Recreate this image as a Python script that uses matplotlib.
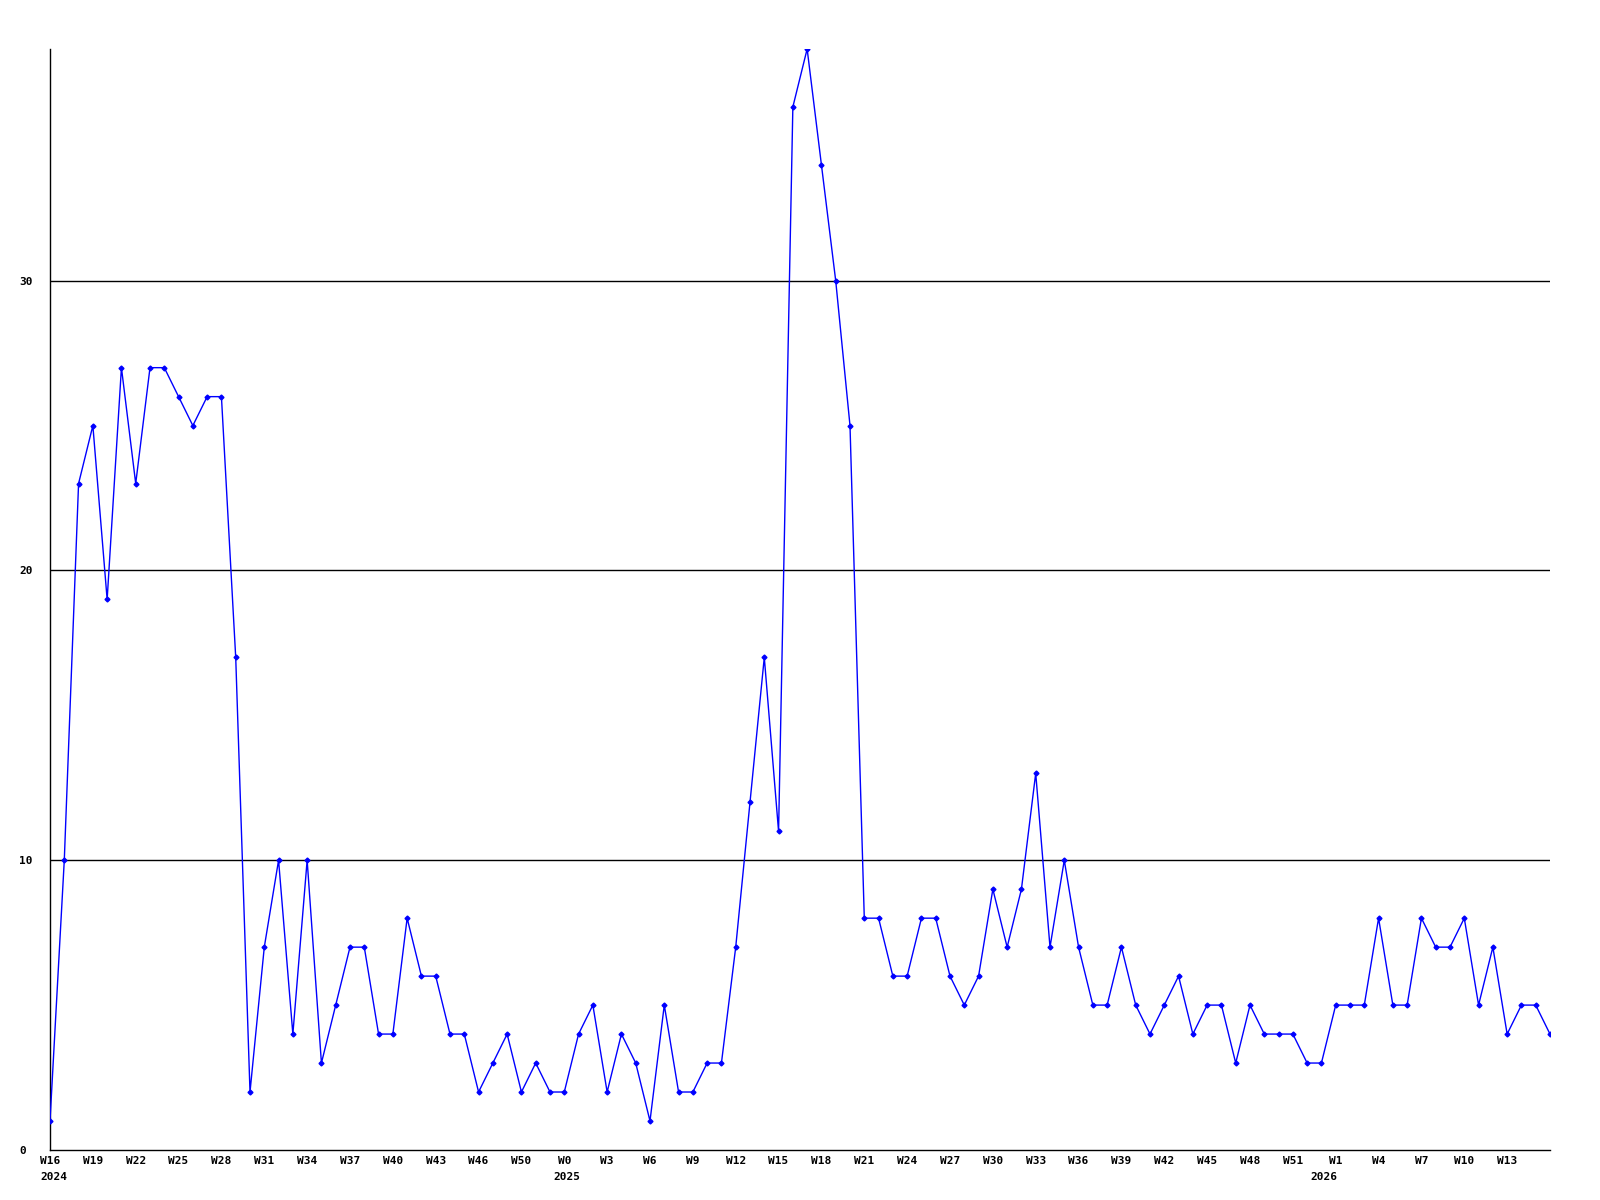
#!/usr/bin/env python3
import matplotlib
matplotlib.use("Agg")
import matplotlib.pyplot as plt

# weekly counts, starting at W16 2024
values = [1, 10, 23, 25, 19, 27, 23, 27, 27, 26, 25, 26, 26, 17, 2, 7, 10, 4, 10, 3,
          5, 7, 7, 4, 4, 8, 6, 6, 4, 4, 2, 3, 4, 2, 3, 2, 2, 4, 5, 2,
          4, 3, 1, 5, 2, 2, 3, 3, 7, 12, 17, 11, 36, 38, 34, 30, 25, 8, 8, 6,
          6, 8, 8, 6, 5, 6, 9, 7, 9, 13, 7, 10, 7, 5, 5, 7, 5, 4, 5, 6,
          4, 5, 5, 3, 5, 4, 4, 4, 3, 3, 5, 5, 5, 8, 5, 5, 8, 7, 7, 8,
          5, 7, 4, 5, 5, 4]

# one label every 3 weeks
tick_labels = ["W16", "W19", "W22", "W25", "W28", "W31", "W34", "W37", "W40",
               "W43", "W46", "W50", "W0", "W3", "W6", "W9", "W12", "W15", "W18",
               "W21", "W24", "W27", "W30", "W33", "W36", "W39", "W42", "W45", "W48",
               "W51", "W1", "W4", "W7", "W10", "W13"]
years = ["2024", "2025", "2026"]
year_pos = [0.3, 36.2, 89.2]  # roughly under W16 / W0 / W1
y_ticks = [0, 10, 20, 30]

x = list(range(len(values)))
font = {"family": "DejaVu Sans Mono", "weight": "bold", "size": 8}

fig = plt.figure(figsize=(16, 12), dpi=100)
ax = fig.add_axes([0.03125, 0.0417, 0.9375, 0.9175])

for yv in y_ticks[1:]:
    ax.axhline(yv, color="black", lw=1, zorder=1)

ax.plot(x, values, color="#0000ff", lw=1, marker="D", markersize=2.5, zorder=3)

ax.set_xlim(0, len(values) - 1)
ax.set_ylim(0, max(values))

ax.set_xticks(x[0:3 * len(tick_labels):3])
ax.set_xticklabels(tick_labels, fontdict=font)
ax.set_yticks(y_ticks)
ax.set_yticklabels([str(v) for v in y_ticks], fontdict=font, ha="left")
ax.tick_params(axis="x", length=0, pad=4)
ax.tick_params(axis="y", length=0, pad=22)

for yr, pos in zip(years, year_pos):
    ax.annotate(yr, xy=(pos, 0), xycoords=("data", "axes fraction"),
                xytext=(0, -19.5), textcoords="offset points",
                ha="center", va="center", annotation_clip=False, **font)

for side in ["top", "right"]:
    ax.spines[side].set_visible(False)
for side in ["left", "bottom"]:
    ax.spines[side].set_color("black")
    ax.spines[side].set_linewidth(1)

fig.savefig("out.png", dpi=100)
